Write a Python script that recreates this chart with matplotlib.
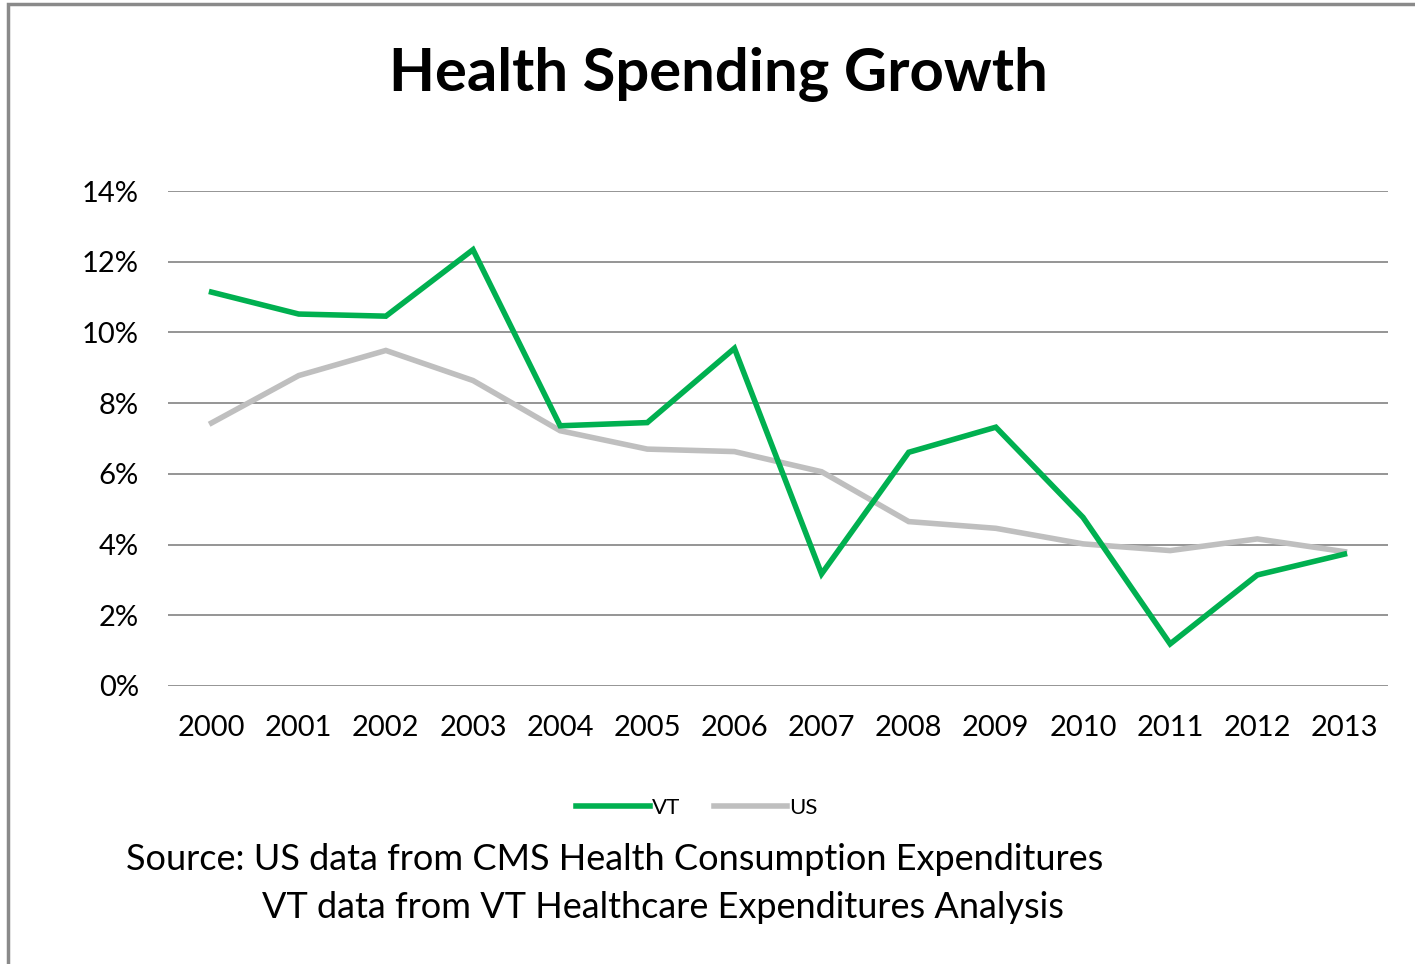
import numpy as np
import matplotlib
matplotlib.use('Agg')
import matplotlib.pyplot as plt
from matplotlib.patches import Rectangle
from matplotlib.ticker import FuncFormatter

# data (annual growth, fraction)
years = ['2000', '2001', '2002', '2003', '2004', '2005', '2006',
         '2007', '2008', '2009', '2010', '2011', '2012', '2013']
vt = [0.1114, 0.1052, 0.1046, 0.1234, 0.0736, 0.0745, 0.0955,
      0.0317, 0.0661, 0.0732, 0.0477, 0.0119, 0.0314, 0.0373]
us = [0.0744, 0.0878, 0.0949, 0.0864, 0.0722, 0.0670, 0.0663,
      0.0606, 0.0465, 0.0446, 0.0402, 0.0383, 0.0416, 0.0380]
source_lines = ['Source: US data from CMS Health Consumption Expenditures',
                'VT data from VT Healthcare Expenditures Analysis']

plt.rcParams['font.family'] = ['Lato', 'DejaVu Sans']

fig = plt.figure(figsize=(14.15, 9.64), dpi=100)
ax = fig.add_axes([168/1415, 1-686/964, 1220/1415, 495/964])

x = np.arange(len(years))
ax.plot(x, vt, color='#00B050', lw=4, solid_joinstyle='miter', label='VT', zorder=3)
ax.plot(x, us, color='#BFBFBF', lw=4, solid_joinstyle='miter', label='US', zorder=2)

ax.set_xlim(-0.5, len(years) - 0.5)
ax.set_ylim(0, 0.14)
ax.set_yticks(np.arange(0, 0.141, 0.02))
ax.yaxis.set_major_formatter(FuncFormatter(lambda v, p: f'{v*100:.0f}%'))
ax.set_xticks(x)
ax.set_xticklabels(years)
ax.tick_params(axis='both', length=0, labelsize=21, colors='#000000')
ax.tick_params(axis='y', pad=21)
ax.tick_params(axis='x', pad=21)
ax.grid(axis='y', color='#8c8c8c', lw=1.3)
ax.set_axisbelow(True)
for s in ax.spines.values():
    s.set_visible(False)

fig.text(0.508, 1-75/964, 'Health Spending Growth', ha='center', va='center',
         fontsize=43, fontweight='bold')

fig.legend(loc='center', bbox_to_anchor=(697/1415, 1-808/964), ncol=2, frameon=False,
           fontsize=16, handlelength=3.3, handletextpad=0.1, columnspacing=1.5)

fig.text(126/1415, 1-860/964, source_lines[0], ha='left', va='center', fontsize=26)
fig.text(262/1415, 1-908/964, source_lines[1], ha='left', va='center', fontsize=26)

# outer frame
fig.patches.append(Rectangle((8/1415, -0.01), 1.02, 1-4/964 + 0.01, transform=fig.transFigure,
                             fill=False, edgecolor='#8a8a8a', lw=2.5))

fig.savefig('out.png', dpi=100, facecolor='white')
